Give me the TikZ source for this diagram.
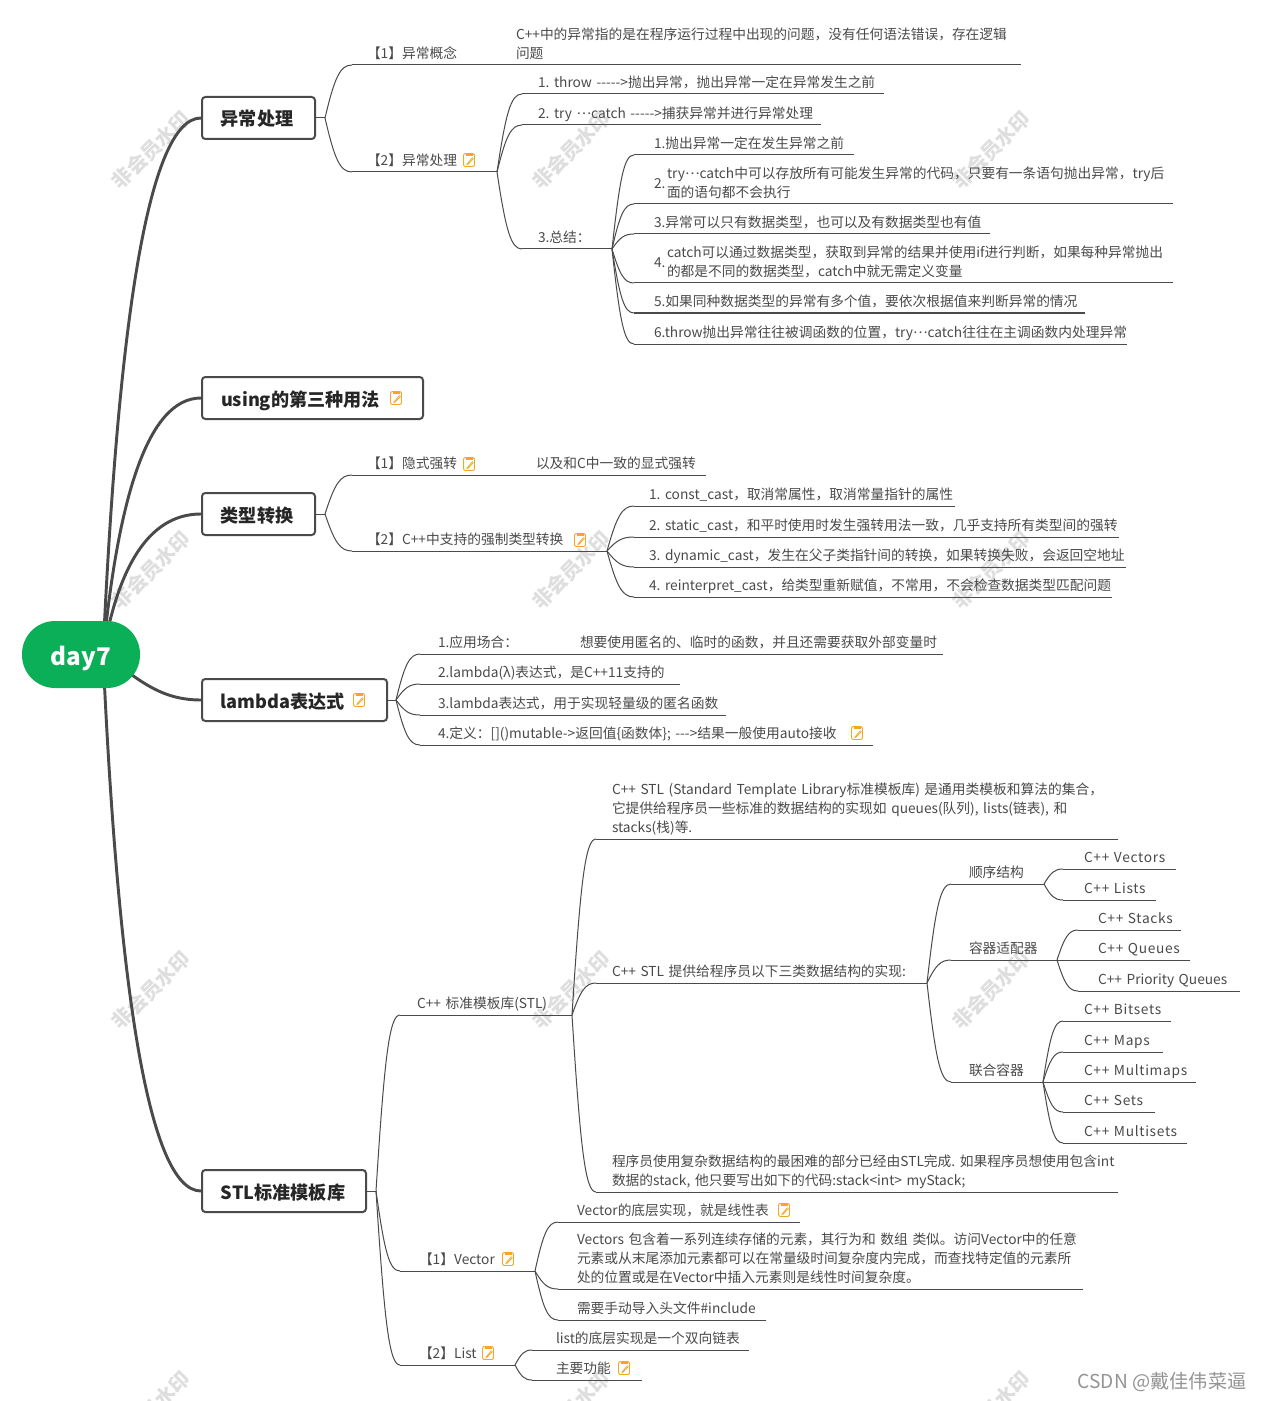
\documentclass[tikz,border=0pt]{standalone}
\usepackage{fontspec}
\setmainfont{Noto Sans CJK SC}[Ligatures=TeXOff]
\usetikzlibrary{calc}
\newdimen\px
\px=.75pt
\newcommand\middots{\raisebox{.32em}{…}}
\newcommand\spread{\addfontfeature{LetterSpace=5}}
\definecolor{rootgreen}{HTML}{0BAF58}
\definecolor{notemark}{HTML}{F5A623}
\definecolor{inkgray}{HTML}{4A4A4A}
\tikzset{
  notemark/.pic={
    \draw[notemark, line width=.7pt, rounded corners=1.5pt] (-5.5,-6.5) rectangle (5.5,6.5);
    \fill[notemark] (-3.5,-6.5) rectangle (3.5,-4);
    \draw[notemark, line width=.6pt] (3.5,-2.5) -- (-1.5,3.5) -- (-2,4.5) -- (-.8,4);
    \draw[notemark, line width=.6pt] (-.8,4) -- (4.5,-1.5);
  }
}
\begin{document}
\begin{tikzpicture}[
    x=.75pt, y=-.75pt,
    stamp/.style={rotate=45, text=black!13, font=\fontsize{15}{18}\selectfont\bfseries},
    topic/.style={draw=inkgray, line width=1.5pt, rounded corners=2.5pt, fill=white, anchor=west,
      minimum height=42\px, inner xsep=0pt, text height=13pt, text depth=1pt, text=black!85,
      font=\fontsize{13.6}{16}\selectfont\bfseries},
    limb/.style={draw=inkgray, line width=2.2pt, to path={let \p1=(\tikztostart),\p2=(\tikztotarget) in
      .. controls ({\x1+.15*(\x2-\x1)},{\y1+.6*(\y2-\y1)}) and ({\x1+.45*(\x2-\x1)},\y2) .. (\tikztotarget)}},
    twig/.style={draw=inkgray, line width=.75pt, to path={let \p1=(\tikztostart),\p2=(\tikztotarget) in
      .. controls ({\x1+.35*(\x2-\x1)},{\y1+.75*(\y2-\y1)}) and ({\x1+.55*(\x2-\x1)},\y2) .. (\tikztotarget)}},
    leaf/.style={anchor=south west, outer sep=0pt, inner xsep=0pt, inner ysep=.3pt, text=inkgray,
      font=\fontsize{10.3}{14.25}\selectfont, execute at end node=\strut}
  ]
    \clip (0,0) rectangle (1261,1401);
    \fill[white] (0,0) rectangle (1261,1401);
    \foreach \x in {151,571,991} {
      \foreach \y in {150,570,990,1410} {
        \node[stamp] (mark\x\y) at (\x,\y) {非会员水印};
      }
    }

    \node[topic, minimum width=113\px] (tex) at (201,118) {异常处理\hspace*{3\px}};
    \node[topic, minimum width=221\px] (tus) at (201,398) {using的第三种用法\hspace*{24\px}};
    \node[topic, minimum width=113\px] (tca) at (201,514) {类型转换\hspace*{3\px}};
    \node[topic, minimum width=185\px] (tla) at (201,700) {lambda表达式\hspace*{23\px}};
    \node[topic, minimum width=164\px] (tst) at (201,1191) {STL标准模板库\hspace*{2\px}};

    \coordinate (hub) at (103,654);
    \coordinate (jex) at (325,118);
    \coordinate (jca) at (325,514);
    \coordinate (jla) at (396,700);
    \coordinate (jst) at (376,1191);

    \foreach \nm/\xa/\xb/\y/\dx/\txt in {
      ex1/352/1021/65/164/{C++中的异常指的是在程序运行过程中出现的问题，没有任何语法错误，存在逻辑\\\leavevmode\llap{\makebox[149\px][l]{【1】异常概念}}问题},
      ex2/352/497/172/15/{【2】异常处理},
      ex2a/522/884/94/16/{1. throw ----->抛出异常，抛出异常一定在异常发生之前},
      ex2b/522/821/125/16/{2. try \middots catch ----->捕获异常并进行异常处理},
      ex2c/522/612/249/16/{3.总结：},
      sm1/634/854/155/20/{1.抛出异常一定在发生异常之前},
      sm2/634/1173/204/33/{\llap{\makebox[13\px][l]{\raisebox{-7pt}[0pt][0pt]{2.}}}try\middots catch中可以存放所有可能发生异常的代码，只要有一条语句抛出异常，try后\\面的语句都不会执行},
      sm3/634/990/234/20/{3.异常可以只有数据类型，也可以及有数据类型也有值},
      sm4/634/1173/283/33/{\llap{\makebox[13\px][l]{\raisebox{-7pt}[0pt][0pt]{4.}}}catch可以通过数据类型，获取到异常的结果并使用if进行判断，如果每种异常抛出\\的都是不同的数据类型，catch中就无需定义变量},
      sm5/634/1085/313/20/{5.如果同种数据类型的异常有多个值，要依次根据值来判断异常的情况},
      sm6/634/1127/344/20/{6.throw抛出异常往往被调函数的位置，try\middots catch往往在主调函数内处理异常},
      cs1/352/706/475/15/{\makebox[169\px][l]{【1】隐式强转}以及和C中一致的显式强转},
      cs2/352/607/551/15/{【2】C++中支持的强制类型转换},
      cs2a/634/955/506/15/{1. const\_cast，取消常属性，取消常量指针的属性},
      cs2b/634/1119/537/15/{2. static\_cast，和平时使用时发生强转用法一致，几乎支持所有类型间的强转},
      cs2c/634/1126/567/15/{3. dynamic\_cast，发生在父子类指针间的转换，如果转换失败，会返回空地址},
      cs2d/634/1112/597/15/{4. reinterpret\_cast，给类型重新赋值，不常用，不会检查数据类型匹配问题},
      lm1/420/943/654/18/{\makebox[142\px][l]{1.应用场合：}想要使用匿名的、临时的函数，并且还需要获取外部变量时},
      lm2/420/680/684/18/{2.lambda(λ)表达式，是C++11支持的},
      lm3/420/726/715/18/{3.lambda表达式，用于实现轻量级的匿名函数},
      lm4/420/873/745/18/{4.定义：[]()mutable->返回值\{函数体\}; --->结果一般使用auto接收},
      sl1/400/572/1015/17/{C++ 标准模板库(STL)},
      sl2/400/535/1271/19/{【1】Vector},
      sl3/400/515/1365/19/{【2】List},
      sa1/596/1118/839/16/{C++ STL (Standard Template Library标准模板库) 是通用类模板和算法的集合，\\它提供给程序员一些标准的数据结构的实现如 queues(队列), lists(链表), 和\\stacks(栈)等.},
      sa2/596/927/983/16/{C++ STL 提供给程序员以下三类数据结构的实现:},
      sa3/596/1118/1192/16/{程序员使用复杂数据结构的最困难的部分已经由STL完成. 如果程序员想使用包含int\\数据的stack, 他只要写出如下的代码:stack<int>  myStack;},
      sb1/951/1044/884/18/{顺序结构},
      sb2/951/1057/960/18/{容器适配器},
      sb3/951/1043/1082/18/{联合容器},
      st1/1063/1176/869/21/{\spread C++ Vectors},
      st2/1063/1156/900/21/{\spread C++ Lists},
      st3/1078/1181/930/20/{\spread C++ Stacks},
      st4/1078/1190/960/20/{\spread C++ Queues},
      st5/1078/1240/991/20/{C++ Priority Queues},
      st6/1063/1171/1021/21/{\spread C++ Bitsets},
      st7/1063/1163/1052/21/{\spread C++ Maps},
      st8/1063/1196/1082/21/{\spread C++ Multimaps},
      st9/1063/1155/1112/21/{\spread C++ Sets},
      st10/1063/1187/1143/21/{\spread C++ Multisets},
      vc1/558/800/1222/19/{Vector的底层实现，就是线性表},
      vc2/558/1083/1289/19/{Vectors 包含着一系列连续存储的元素，其行为和 数组 类似。访问Vector中的任意\\元素或从末尾添加元素都可以在常量级时间复杂度内完成，而查找特定值的元素所\\处的位置或是在Vector中插入元素则是线性时间复杂度。},
      vc3/558/766/1320/19/{需要手动导入头文件\#include},
      ls1/532/749/1350/24/{list的底层实现是一个双向链表},
      ls2/532/642/1380/24/{主要功能}} {
      \node[leaf, text width={(\xb-\xa)*\px},
        execute at begin node={\raggedright\frenchspacing\leftskip=.75\dimexpr\dx pt\relax}] (\nm) at (\xa,\y) {\txt};
      \draw[twig] (\nm.south west) -- (\nm.south east);
    }

    \draw[twig] (tex.east) -- (jex);
    \draw[twig] (tca.east) -- (jca);
    \draw[twig] (tla.east) -- (jla);
    \draw[twig] (tst.east) -- (jst);

    \foreach \from/\kids in {
      jex/{ex1,ex2}, ex2.south east/{ex2a,ex2b,ex2c}, ex2c.south east/{sm1,sm2,sm3,sm4,sm5,sm6},
      jca/{cs1,cs2}, cs2.south east/{cs2a,cs2b,cs2c,cs2d},
      jla/{lm1,lm2,lm3,lm4},
      jst/{sl1,sl2,sl3}, sl1.south east/{sa1,sa2,sa3}, sa2.south east/{sb1,sb2,sb3},
      sb1.south east/{st1,st2}, sb2.south east/{st3,st4,st5}, sb3.south east/{st6,st7,st8,st9,st10},
      sl2.south east/{vc1,vc2,vc3}, sl3.south east/{ls1,ls2}} {
      \foreach \kid in \kids {
        \draw[twig] (\from) to (\kid.south west);
      }
    }

    \draw[limb] (hub) to (tex.west);
    \draw[limb] (hub) to (tus.west);
    \draw[limb] (hub) to (tca.west);
    \draw[limb] (hub) to (tst.west);
    \draw[draw=inkgray, line width=2.2pt] (hub) to[out=-35, in=180] (tla.west);

    \node[draw=none, fill=rootgreen, rounded corners=33\px, minimum width=118\px, minimum height=67\px,
      text height=16pt, text depth=0pt, text=white, font=\fontsize{18.2}{22}\selectfont\bfseries] (root) at (81,654.5) {day7};

    \foreach \x/\y in {469/160,396/398,469/464,580/540,359/700,857/733,784/1210,508/1259,488/1353,624/1368} {
      \pic at (\x,\y) {notemark};
    }

    \node[anchor=west, text=black!42, font=\fontsize{14.4}{18}\selectfont] (csdn) at (1073,1382) {CSDN @戴佳伟菜逼};
\end{tikzpicture}
\end{document}
